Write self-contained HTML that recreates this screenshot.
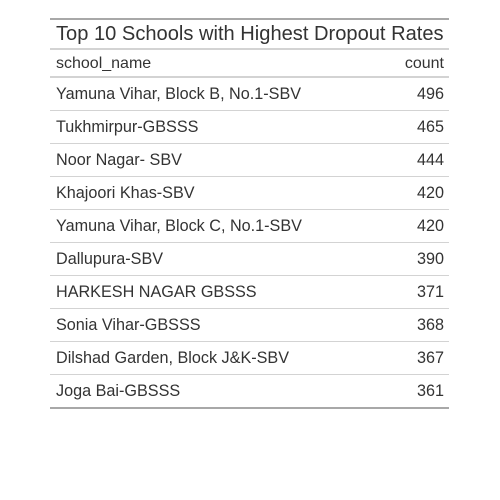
<!DOCTYPE html>
<html><head><style>
body{margin:0;width:500px;height:500px;background:#fff;font-family:"Liberation Sans",sans-serif;color:#333;position:relative;overflow:hidden}
.t{position:absolute;left:50px;width:399px}
.title{top:18px;height:28px;border-top:2px solid #a8a8a8;border-bottom:2px solid #d3d3d3;font-size:20.1px;line-height:29px;padding-left:6px;box-sizing:content-box;width:393px;white-space:nowrap}
.head{top:49px;height:27px;border-bottom:2px solid #d3d3d3;font-size:16px;line-height:29px}
.row{height:32px;border-bottom:1px solid #d3d3d3;font-size:16.2px;line-height:33px;position:relative}
.row.last{border-bottom:2px solid #a8a8a8}
.n{position:absolute;left:6px}
.c{position:absolute;right:5px}
</style></head><body>
<div class="t title">Top 10 Schools with Highest Dropout Rates</div>
<div class="t head"><span class="n">school_name</span><span class="c">count</span></div>
<div class="t" id="body" style="top:78px"></div>
<script>
const schools=["Yamuna Vihar, Block B, No.1-SBV","Tukhmirpur-GBSSS","Noor Nagar- SBV","Khajoori Khas-SBV","Yamuna Vihar, Block C, No.1-SBV","Dallupura-SBV","HARKESH NAGAR GBSSS","Sonia Vihar-GBSSS","Dilshad Garden, Block J&K-SBV","Joga Bai-GBSSS"];
const counts=[496,465,444,420,420,390,371,368,367,361];
const body=document.getElementById('body');
schools.forEach((s,i)=>{
const r=document.createElement('div');
r.className='row'+(i===schools.length-1?' last':'');


const a=document.createElement('span');a.className='n';a.textContent=s;


const b=document.createElement('span');b.className='c';b.textContent=counts[i];


r.appendChild(a);r.appendChild(b);body.appendChild(r);
});
</script>
</body></html>
